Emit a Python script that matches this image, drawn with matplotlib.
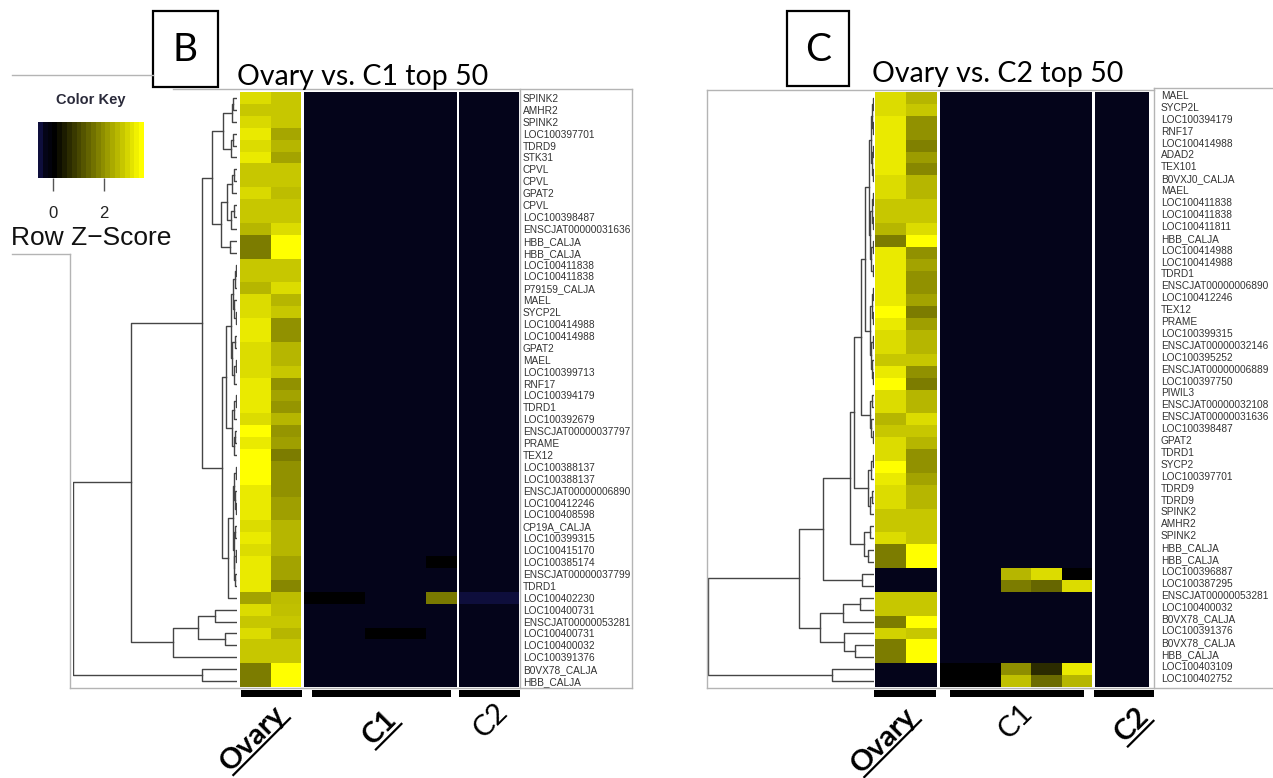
import numpy as np
import matplotlib
matplotlib.use("Agg")
import matplotlib.pyplot as plt
from matplotlib.colors import LinearSegmentedColormap, Normalize
from matplotlib.cm import ScalarMappable
from matplotlib.patches import Rectangle
from matplotlib.transforms import ScaledTranslation

W, H = 1273, 778

# ---------------- data ----------------
groups = ["Ovary", "C1", "C2"]
n_cols = [2, 5, 2]

genes_b = ["SPINK2", "AMHR2", "SPINK2", "LOC100397701", "TDRD9", "STK31", "CPVL", "CPVL",
           "GPAT2", "CPVL", "LOC100398487", "ENSCJAT00000031636", "HBB_CALJA", "HBB_CALJA",
           "LOC100411838", "LOC100411838", "P79159_CALJA", "MAEL", "SYCP2L", "LOC100414988",
           "LOC100414988", "GPAT2", "MAEL", "LOC100399713", "RNF17", "LOC100394179", "TDRD1",
           "LOC100392679", "ENSCJAT00000037797", "PRAME", "TEX12", "LOC100388137",
           "LOC100388137", "ENSCJAT00000006890", "LOC100412246", "LOC100408598", "CP19A_CALJA",
           "LOC100399315", "LOC100415170", "LOC100385174", "ENSCJAT00000037799", "TDRD1",
           "LOC100402230", "LOC100400731", "ENSCJAT00000053281", "LOC100400731",
           "LOC100400032", "LOC100391376", "B0VX78_CALJA", "HBB_CALJA"]

genes_c = ["MAEL", "SYCP2L", "LOC100394179", "RNF17", "LOC100414988", "ADAD2", "TEX101",
           "B0VXJ0_CALJA", "MAEL", "LOC100411838", "LOC100411838", "LOC100411811", "HBB_CALJA",
           "LOC100414988", "LOC100414988", "TDRD1", "ENSCJAT00000006890", "LOC100412246",
           "TEX12", "PRAME", "LOC100399315", "ENSCJAT00000032146", "LOC100395252",
           "ENSCJAT00000006889", "LOC100397750", "PIWIL3", "ENSCJAT00000032108",
           "ENSCJAT00000031636", "LOC100398487", "GPAT2", "TDRD1", "SYCP2", "LOC100397701",
           "TDRD9", "TDRD9", "SPINK2", "AMHR2", "SPINK2", "HBB_CALJA", "HBB_CALJA",
           "LOC100396887", "LOC100387295", "ENSCJAT00000053281", "LOC100400032",
           "B0VX78_CALJA", "LOC100391376", "B0VX78_CALJA", "HBB_CALJA", "LOC100403109",
           "LOC100402752"]

# row z-scores of the two ovary samples
ovary_b = [[3.1, 2.8], [2.8, 2.8], [3.05, 2.8], [3.3, 2.35], [3.1, 2.55], [3.3, 2.3],
           [2.8, 2.8], [2.8, 2.8], [3.05, 2.65], [2.8, 2.8], [2.8, 2.8], [2.55, 3.1],
           [1.75, 3.6], [1.75, 3.6], [2.8, 2.8], [2.8, 2.8], [2.55, 3.1], [3.1, 2.55],
           [3.1, 2.8], [3.3, 2.05], [3.3, 2.05], [3.1, 2.55], [3.1, 2.55], [3.1, 2.8],
           [3.3, 2.05], [3.3, 2.3], [3.3, 2.1], [3.1, 2.55], [3.6, 2.1], [3.3, 2.25],
           [3.6, 1.75], [3.6, 2.05], [3.6, 2.05], [3.3, 2.05], [3.3, 2.25], [3.3, 2.25],
           [3.1, 2.55], [3.3, 2.55], [3.1, 2.55], [3.3, 2.3], [3.3, 2.3], [3.3, 1.9],
           [2.3, 2.65], [3.1, 2.7], [2.8, 2.8], [3.1, 2.55], [2.8, 2.8], [2.8, 2.8],
           [1.75, 3.6], [1.75, 3.6]]

ovary_c = [[3.1, 2.55], [3.1, 2.8], [3.3, 2.05], [3.3, 2.05], [3.3, 1.8], [3.3, 2.2],
           [3.3, 1.9], [3.1, 2.55], [3.1, 2.55], [2.8, 2.8], [2.8, 2.8], [2.55, 3.1],
           [1.75, 3.6], [3.3, 2.05], [3.3, 2.3], [3.3, 2.05], [3.3, 2.05], [3.3, 2.3],
           [3.6, 1.75], [3.3, 2.25], [3.1, 2.55], [3.1, 2.55], [2.8, 2.8], [3.3, 2.05],
           [3.6, 1.75], [3.1, 2.55], [3.1, 2.55], [2.55, 3.1], [2.8, 2.8], [3.1, 2.55],
           [3.1, 2.05], [3.6, 2.05], [3.3, 2.3], [3.1, 2.55], [3.1, 2.55], [2.8, 2.8],
           [2.8, 2.8], [3.1, 2.8], [1.75, 3.6], [1.75, 3.6], [-0.45, -0.45], [-0.45, -0.45],
           [2.8, 2.8], [2.8, 2.8], [1.75, 3.6], [2.95, 2.8], [1.75, 3.6], [1.75, 3.6],
           [-0.45, -0.45], [-0.45, -0.45]]

# C1 / C2 samples: nearly all at the floor value, exceptions as (row, column): z
floor_z = -0.45
c1_b_cells = {(40, 5): 0.0, (43, 1): 0.0, (43, 2): 0.0, (43, 5): 1.7,
              (46, 3): 0.0, (46, 4): 0.0}
c2_b_cells = {(43, 1): -0.6, (43, 2): -0.6}
c1_c_cells = {(41, 3): 2.55, (41, 4): 3.1, (41, 5): 0.0,
              (42, 3): 1.75, (42, 4): 1.45, (42, 5): 3.1,
              (49, 1): 0.0, (49, 2): 0.0, (49, 3): 2.0, (49, 4): 0.6, (49, 5): 3.3,
              (50, 1): 0.0, (50, 2): 0.0, (50, 3): 2.7, (50, 4): 1.5, (50, 5): 2.55}
c2_c_cells = {}

# row dendrograms: leaf = row number, node = (height, left, right)
tree_b = (164,
          (106,
           (35,
            (25,
             (14, (5, (4, 1, 2), 3), (6, (4, 4, 5), 6)),
             (16, (10, (5, (3, 7, 8), 9), (6, (3, 10, 11), 12)), (7, 13, 14))),
            (15,
             (11,
              (6, (4, (2, (1, 15, 16), 17), (3, 18, (1, 19, 20))),
               (5, (2, 21, 22), (3, (1, 23, 24), 25))),
              (5, (3, (1, 26, 27), 28), (3, (2, 29, 30), 31))),
             (9,
              (4, (3, (1, 32, 33), (2, 34, (1, 35, 36))),
               (3, (2, 37, 38), (2.5, (1, 39, 40), (1.5, 41, 42)))),
              43))),
           (64, (39, (22, 44, 45), (12, 46, 47)), 48)),
          (35, 49, 50))

tree_c = (166,
          (75,
           (51,
            (24,
             (20,
              (13,
               (9,
                (5, (3, (2, (1, 1, 2), (1, 3, 4)), (2, (1, 5, 6), (1.5, 7, 8))),
                 (4, (2, (1, 9, 10), (1, 11, 12)), (3, (1, 13, 14), (1.5, 15, 16)))),
                (4, (2, (1, 17, 18), (1.5, 19, 20)),
                 (3, (1, 21, 22), (2, 23, (1, 24, 25))))),
               (4, (2, 26, 27), (3, 28, (1, 29, 30)))),
              (6, (3, (1, 31, 32), 33), (4, (2, 34, 35), 36))),
             (10, (4, 37, 38), (6, 39, 40))),
            (12, 41, 42)),
           (54, (31, (14, 43, 44), 45), (30, 46, (19, 47, 48)))),
          (42, 49, 50))

# ---------------- helpers ----------------
cmap = LinearSegmentedColormap.from_list(
    "key", [(0.0, "#0e0e3c"), (0.15 / 4.2, "#04041a"), (0.6 / 4.2, "#000000"), (1.0, "#ffff00")])
norm = Normalize(vmin=-0.6, vmax=3.6)


def px(x0, y0, x1, y1):
    return [x0 / W, 1 - y1 / H, (x1 - x0) / W, (y1 - y0) / H]


def sample_matrix(ncol, cells, nrow=50):
    m = np.full((nrow, ncol), floor_z)
    for (r, c), v in cells.items():
        m[r - 1, c - 1] = v
    return m


def draw_tree(ax, node):
    if isinstance(node, int):
        return node - 0.5, 0.0
    h, a, b = node
    ya, ha = draw_tree(ax, a)
    yb, hb = draw_tree(ax, b)
    ax.plot([ha, h, h, hb], [ya, ya, yb, yb], color="#454545", lw=1.0)
    return (ya + yb) / 2, h


def heat_panel(col_px, mats, labels, pad, shift, tree, tree_px):
    axes = []
    for (x0, x1), m in zip(col_px, mats):
        ax = fig.add_axes(px(x0, 92, x1, 687))
        ax.pcolormesh(np.asarray(m), cmap=cmap, norm=norm)
        ax.set_xlim(0, len(m[0]))
        ax.set_ylim(len(m), 0)
        ax.set_xticks([])
        ax.set_yticks([])
        for s in ax.spines.values():
            s.set_visible(False)
        axes.append(ax)
    last = axes[-1]
    last.yaxis.tick_right()
    last.set_yticks(np.arange(len(labels)) + 0.5)
    last.set_yticklabels(labels, fontsize=7.3, color="#333333", family="Liberation Sans")
    last.tick_params(axis="y", length=0, pad=pad)
    if shift:
        off = ScaledTranslation(0, shift / 100, fig.dpi_scale_trans)
        for t in last.get_yticklabels():
            t.set_transform(t.get_transform() + off)

    dax = fig.add_axes(px(*tree_px))
    draw_tree(dax, tree)
    dax.set_xlim(tree[0], 0)
    dax.set_ylim(len(labels), 0)
    dax.axis("off")


fig = plt.figure(figsize=(W / 100, H / 100), dpi=100)

heat_panel([(240, 301), (304, 456.5), (459, 518.5)],
           [ovary_b, sample_matrix(5, c1_b_cells), sample_matrix(2, c2_b_cells)],
           genes_b, 3.0, 0, tree_b, (73, 92, 237, 687))
heat_panel([(875, 937), (940, 1092), (1095, 1149)],
           [ovary_c, sample_matrix(5, c1_c_cells), sample_matrix(2, c2_c_cells)],
           genes_c, 8.4, 3, tree_c, (708, 92, 874, 687))

# colour key
cax = fig.add_axes(px(38, 122, 144, 178))
cb = fig.colorbar(ScalarMappable(norm=norm, cmap=cmap.resampled(22)), cax=cax,
                  orientation="horizontal", ticks=[0, 2])
cb.outline.set_visible(False)
cax.tick_params(axis="x", length=9.5, width=1, color="#555555", pad=11,
                labelsize=12, labelcolor="#222222")
for t in cax.get_xticklabels():
    t.set_family("Liberation Sans")

# overlay for frames, titles and group labels (pixel coordinates)
ov = fig.add_axes([0, 0, 1, 1], zorder=5)
ov.set_xlim(0, W)
ov.set_ylim(H, 0)
ov.axis("off")
ov.patch.set_alpha(0)

frame_col = "#b4b4b4"
frames = [((12, 153), (75, 75)), ((12, 70), (254, 254)), ((70, 70), (254, 688)),
          ((70, 632), (688, 688)), ((173, 632), (89, 89)), ((632, 632), (89, 688)),
          ((520, 520), (89, 688)),
          ((707, 707), (90, 688)), ((707, 1154), (90, 90)), ((1154, 1273), (88, 88)),
          ((707, 1273), (688, 688)), ((1154, 1154), (88, 688))]
for xs, ys in frames:
    ov.plot(xs, ys, color=frame_col, lw=1.0)

ov.text(91, 100, "Color Key", fontsize=10.5, fontweight="bold", color="#2b2b3b",
        family="Liberation Sans", ha="center", va="center")
ov.text(11, 245, "Row Z\u2212Score", fontsize=19, color="#111111",
        family="Liberation Sans", ha="left", va="baseline")

for (x0, y0, x1, y1), letter in [((153, 11, 218, 87), "B"), ((787, 11, 849, 86), "C")]:
    ov.add_patch(Rectangle((x0, y0), x1 - x0, y1 - y0, fill=True, facecolor="white",
                           edgecolor="black", lw=1.6))
    ov.text((x0 + x1) / 2, (y0 + y1) / 2 + 1, letter, fontsize=28, family="Lato",
            ha="center", va="center")

ov.text(237, 85, "Ovary vs. C1 top 50", fontsize=20.5, family="Lato", va="baseline")
ov.text(872, 82, "Ovary vs. C2 top 50", fontsize=20.5, family="Lato", va="baseline")

# group bars under the heatmaps
bars = [(241, 302), (312, 451), (459, 520), (874, 936), (950, 1084), (1094, 1154)]
for x0, x1 in bars:
    ov.add_patch(Rectangle((x0, 690), x1 - x0, 7, color="black", lw=0))

# rotated group names; highlighted group is bold and underlined
group_text = [(253, 738, "Ovary", True), (380, 728, "C1", True), (491, 720, "C2", False),
              (884, 740, "Ovary", True), (1016, 721, "C1", False), (1132, 725, "C2", True)]
fig.canvas.draw()
fs = 21
for x, y, s, bold in group_text:
    t = ov.text(x, y, s, fontsize=fs, family="Lato",
                fontweight="bold" if bold else "normal", ha="center", va="center")
    if bold:
        L = t.get_window_extent(renderer=fig.canvas.get_renderer()).width
        d = 0.42 * fs * 100 / 72
        cx, cy = x + d / np.sqrt(2), y + d / np.sqrt(2)
        hx = L / 2 / np.sqrt(2)
        ov.plot([cx - hx, cx + hx], [cy + hx, cy - hx], color="black", lw=1.6)
    t.set_rotation(45)

fig.savefig("out.png", dpi=100)
